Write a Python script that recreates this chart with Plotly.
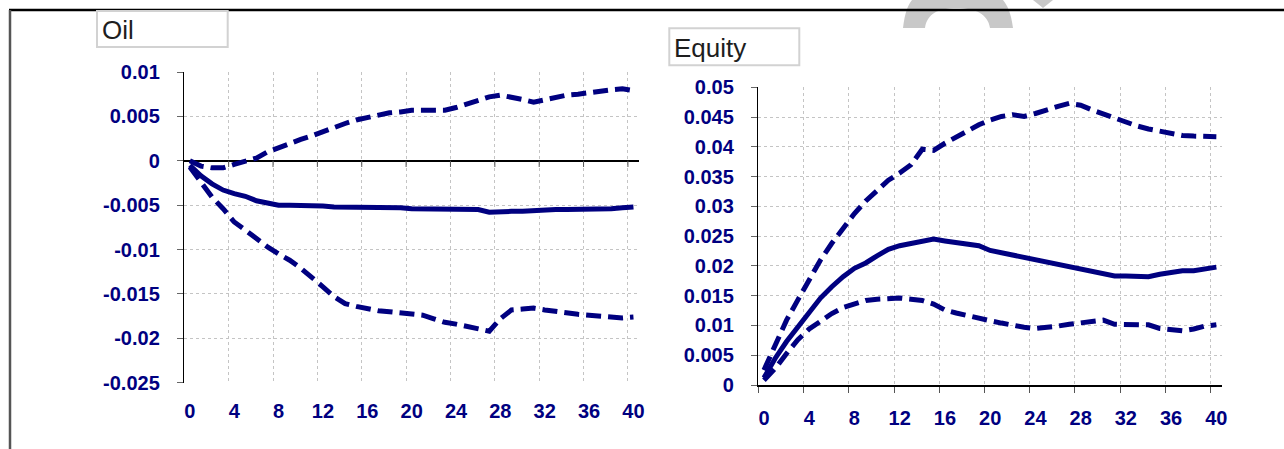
import plotly.graph_objects as go

W, H = 1284, 449

# ---------------- data ----------------
periods = list(range(41))
x_tick_vals = list(range(0, 41, 4))
x_tick_text = [str(v) for v in x_tick_vals]

oil_median = [-0.0005, -0.0017, -0.0026, -0.0033, -0.0037, -0.0040, -0.0045, -0.0048, -0.0050, -0.0050,
              -0.0050, -0.0050, -0.0051, -0.0052, -0.0052, -0.0052, -0.0052, -0.0053, -0.0053, -0.0053,
              -0.0054, -0.0054, -0.0054, -0.0054, -0.0054, -0.0054, -0.0055, -0.0058, -0.0057, -0.0057,
              -0.0057, -0.0056, -0.0056, -0.0055, -0.0055, -0.0055, -0.0055, -0.0055, -0.0054, -0.0053,
              -0.0052]
oil_upper = [0.0000, -0.0006, -0.0008, -0.0008, -0.0004, 0.0000, 0.0003, 0.0010, 0.0015, 0.0020,
             0.0024, 0.0028, 0.0033, 0.0038, 0.0042, 0.0046, 0.0049, 0.0052, 0.0054, 0.0055,
             0.0057, 0.0057, 0.0057, 0.0057, 0.0060, 0.0064, 0.0069, 0.0072, 0.0074, 0.0072,
             0.0069, 0.0066, 0.0069, 0.0072, 0.0074, 0.0075, 0.0077, 0.0078, 0.0080, 0.0081,
             0.0079]
oil_lower = [-0.0007, -0.0024, -0.0041, -0.0054, -0.0069, -0.0078, -0.0088, -0.0097, -0.0105, -0.0112,
             -0.0121, -0.0131, -0.0142, -0.0153, -0.0161, -0.0164, -0.0167, -0.0169, -0.0170, -0.0171,
             -0.0172, -0.0174, -0.0178, -0.0182, -0.0184, -0.0187, -0.0189, -0.0192, -0.0178, -0.0168,
             -0.0167, -0.0166, -0.0168, -0.0170, -0.0172, -0.0173, -0.0174, -0.0175, -0.0176, -0.0177,
             -0.0176]

eq_median = [0.0012, 0.0045, 0.0073, 0.0098, 0.0121, 0.0146, 0.0165, 0.0182, 0.0196, 0.0205,
             0.0217, 0.0228, 0.0234, 0.0238, 0.0241, 0.0245, 0.0242, 0.0239, 0.0237, 0.0234,
             0.0226, 0.0222, 0.0218, 0.0215, 0.0211, 0.0207, 0.0203, 0.0199, 0.0195, 0.0192,
             0.0188, 0.0183, 0.0183, 0.0183, 0.0182, 0.0186, 0.0190, 0.0192, 0.0192, 0.0194,
             0.0198]
eq_upper = [0.0025, 0.0067, 0.0109, 0.0143, 0.0176, 0.0210, 0.0238, 0.0263, 0.0288, 0.0309,
            0.0327, 0.0344, 0.0356, 0.0370, 0.0396, 0.0394, 0.0406, 0.0417, 0.0428, 0.0437,
            0.0445, 0.0451, 0.0454, 0.0451, 0.0456, 0.0463, 0.0468, 0.0473, 0.0470, 0.0462,
            0.0455, 0.0448, 0.0441, 0.0435, 0.0430, 0.0426, 0.0422, 0.0419, 0.0418, 0.0417,
            0.0417]
eq_lower = [0.0008, 0.0028, 0.0053, 0.0076, 0.0094, 0.0108, 0.0120, 0.0130, 0.0137, 0.0142,
            0.0144, 0.0146, 0.0146, 0.0144, 0.0142, 0.0136, 0.0126, 0.0121, 0.0116, 0.0112,
            0.0108, 0.0104, 0.0100, 0.0097, 0.0095, 0.0096, 0.0099, 0.0102, 0.0105, 0.0108,
            0.0109, 0.0102, 0.0101, 0.0101, 0.0101, 0.0095, 0.0092, 0.0091, 0.0094, 0.0099,
            0.0101]

oil_y_ticks = [-0.025, -0.02, -0.015, -0.01, -0.005, 0, 0.005, 0.01]
oil_y_text = ["-0.025", "-0.02", "-0.015", "-0.01", "-0.005", "0", "0.005", "0.01"]
eq_y_ticks = [0, 0.005, 0.01, 0.015, 0.02, 0.025, 0.03, 0.035, 0.04, 0.045, 0.05]
eq_y_text = ["0", "0.005", "0.01", "0.015", "0.02", "0.025", "0.03", "0.035", "0.04", "0.045", "0.05"]

panel_titles = ["Oil", "Equity"]

# ---------------- style ----------------
NAVY = "#000080"
GRID = "#c4c4c4"
LINE_W = 5
DASH = "15px,7px"
TICKFONT = dict(family="Liberation Sans, Arial, sans-serif", size=20, color=NAVY, weight="bold")
boundaries = [v - 0.5 for v in range(0, 41, 4)]


def px(x):
    return min(max(x / W, 0.0), 1.0)


def py(y):
    return min(max(1 - y / H, 0.0), 1.0)


fig = go.Figure()

for series, dash in [(oil_upper, DASH), (oil_lower, DASH), (oil_median, "solid")]:
    fig.add_trace(go.Scatter(x=periods, y=series, mode="lines", xaxis="x", yaxis="y",
                             line=dict(color=NAVY, width=LINE_W, dash=dash),
                             showlegend=False, hoverinfo="skip"))
for series, dash in [(eq_upper, DASH), (eq_lower, DASH), (eq_median, "solid")]:
    fig.add_trace(go.Scatter(x=periods, y=series, mode="lines", xaxis="x2", yaxis="y2",
                             line=dict(color=NAVY, width=LINE_W, dash=dash),
                             showlegend=False, hoverinfo="skip"))

common_x = dict(range=[-0.5, 40.5], tickmode="array", tickvals=x_tick_vals, ticktext=x_tick_text,
                tickfont=TICKFONT, showgrid=False, zeroline=False, ticks="", automargin=False)
common_y = dict(tickmode="array", tickfont=TICKFONT, showgrid=True, gridcolor=GRID, griddash="dot",
                gridwidth=1, showline=True, linecolor="black", linewidth=1.5, ticks="outside",
                ticklen=6, tickcolor="#666666", tickwidth=1, ticklabelstandoff=13, automargin=False)

fig.update_layout(
    width=W, height=H, autosize=False,
    margin=dict(l=0, r=0, t=0, b=0, pad=0, autoexpand=False),
    paper_bgcolor="white", plot_bgcolor="white",
    xaxis=dict(domain=[px(184.3), px(639)], anchor="y", showline=False, ticklabelstandoff=14,
               minor=dict(tickmode="array", tickvals=boundaries, showgrid=True, gridcolor=GRID,
                          griddash="dot", gridwidth=1, ticks=""),
               **common_x),
    yaxis=dict(domain=[py(382.7), py(72)], anchor="x", range=[-0.025, 0.01], tickvals=oil_y_ticks,
               ticktext=oil_y_text, zeroline=True, zerolinecolor="black", zerolinewidth=1.5,
               **common_y),
    xaxis2=dict(domain=[px(758.3), px(1222)], anchor="y2", showline=True, linecolor="black",
                linewidth=1.5, ticklabelstandoff=14,
                minor=dict(tickmode="array", tickvals=boundaries, showgrid=True, gridcolor=GRID,
                           griddash="dot", gridwidth=1, ticks="outside", ticklen=6,
                           tickcolor="#555555", tickwidth=1),
                **common_x),
    yaxis2=dict(domain=[py(385), py(87.3)], anchor="x2", range=[0, 0.05], tickvals=eq_y_ticks,
                ticktext=eq_y_text, zeroline=False, **common_y),
)

shapes = []


def P(x, y):
    return f"{px(x):.5f},{py(y):.5f}"


# watermark fragments (grey, partly hidden under the frame)
arch = ("M " + P(903, 28) + " C " + P(905, 12) + " " + P(908, 5) + " " + P(912, 0) +
        " L " + P(1003, 0) + " C " + P(1007, 5) + " " + P(1011, 12) + " " + P(1013, 28) +
        " L " + P(990, 28) + " C " + P(988, 14) + " " + P(975, 8) + " " + P(957, 8) +
        " C " + P(938, 8) + " " + P(927, 14) + " " + P(925, 28) + " Z")
shapes.append(dict(type="path", xref="paper", yref="paper", path=arch,
                   fillcolor="#c8c8c8", line=dict(width=0), layer="below"))
vee = "M " + P(1033, 0) + " L " + P(1053, 0) + " L " + P(1043, 8) + " Z"
shapes.append(dict(type="path", xref="paper", yref="paper", path=vee,
                   fillcolor="#c8c8c8", line=dict(width=0), layer="below"))

# frame
shapes.append(dict(type="line", xref="paper", yref="paper", x0=px(9), x1=1, y0=py(10), y1=py(10),
                   line=dict(color="black", width=2.5)))
shapes.append(dict(type="line", xref="paper", yref="paper", x0=px(10), x1=px(10), y0=py(10), y1=0,
                   line=dict(color="#555555", width=2.5)))

# small ticks on the zero line of the Oil panel
for b in boundaries[1:]:
    shapes.append(dict(type="line", xref="x", yref="y", x0=b, x1=b, y0=0, y1=-0.0007,
                       line=dict(color="#555555", width=1)))

# title boxes
boxes = [(97, 11, 227.7, 47), (669.3, 28.3, 799.3, 65.3)]
for (x0, y0, x1, y1), title in zip(boxes, panel_titles):
    shapes.append(dict(type="rect", xref="paper", yref="paper", x0=px(x0), x1=px(x1), y0=py(y1), y1=py(y0),
                       fillcolor="white", line=dict(color="#d2d2d2", width=2)))
    fig.add_annotation(xref="paper", yref="paper", x=px(x0 + 3), y=py((y0 + y1) / 2 + 1),
                       xanchor="left", yanchor="middle", text=title, showarrow=False,
                       font=dict(family="Liberation Sans, Arial, sans-serif", size=26, color="#1e1e1e"))

fig.update_layout(shapes=shapes)

fig.write_html("out.html", config={"displayModeBar": False, "staticPlot": True},
               post_script="document.body.style.margin='0';document.body.style.padding='0';")
